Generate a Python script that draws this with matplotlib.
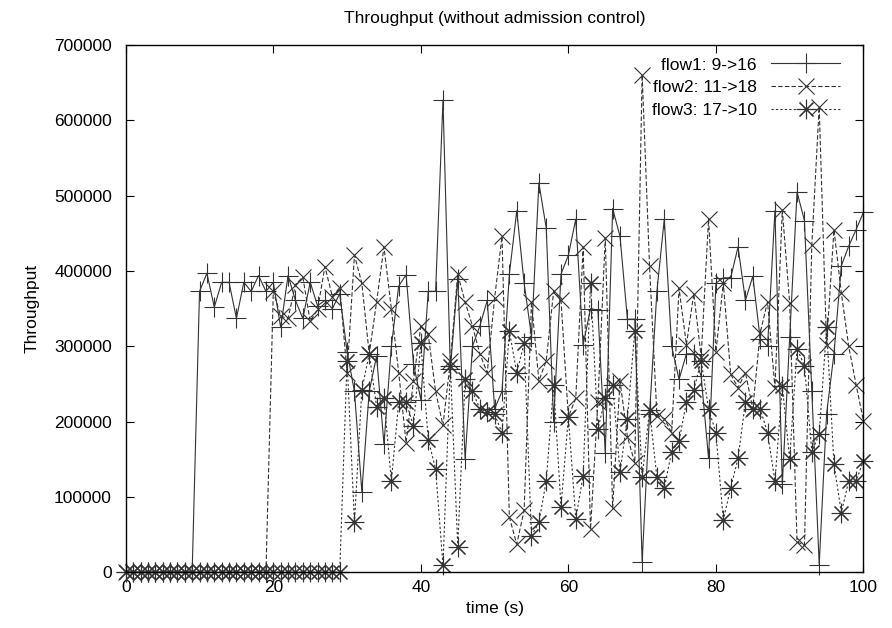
import numpy as np
import matplotlib
matplotlib.use("Agg")
import matplotlib.pyplot as plt

plt.rcParams['font.family'] = ['Liberation Sans', 'DejaVu Sans']

# time axis (s), one sample per second
time_s = list(range(101))

# throughput values, in thousands
flow1_k = [0, 0, 0, 0, 0, 0, 0, 0, 0, 0,
           373, 397, 352, 385, 385, 337, 385, 373, 394, 373,
           385, 325, 394, 361, 337, 385, 354, 361, 350, 370,
           293, 240, 107, 240, 287, 170, 300, 380, 395, 277,
           229, 373, 373, 627, 270, 390, 150, 300, 327, 361,
           217, 240, 396, 480, 384, 313, 517, 457, 200, 396,
           421, 469, 302, 350, 348, 158, 483, 446, 336, 336,
           14, 210, 373, 469, 300, 256, 290, 290, 260, 151,
           384, 391, 391, 432, 361, 393, 310, 300, 480, 117,
           312, 505, 467, 240, 10, 210, 290, 407, 433, 455, 478]

flow2_k = [0, 0, 0, 0, 0, 0, 0, 0, 0, 0,
           0, 0, 0, 0, 0, 0, 0, 0, 0, 0,
           373, 340, 337, 382, 392, 333, 349, 406, 366, 378,
           265, 421, 384, 290, 359, 432, 350, 265, 172, 254,
           327, 316, 240, 195, 280, 396, 359, 327, 290, 265,
           364, 446, 73, 37, 82, 359, 254, 281, 373, 361,
           206, 231, 432, 57, 226, 444, 85, 254, 180, 145,
           661, 407, 208, 204, 185, 377, 302, 370, 286, 469,
           293, 384, 263, 245, 265, 217, 318, 359, 245, 481,
           357, 40, 36, 435, 618, 302, 455, 371, 300, 249, 201]

flow3_k = [0, 0, 0, 0, 0, 0, 0, 0, 0, 0,
           0, 0, 0, 0, 0, 0, 0, 0, 0, 0,
           0, 0, 0, 0, 0, 0, 0, 0, 0, 0,
           281, 66, 242, 290, 220, 231, 121, 226, 226, 194,
           304, 176, 137, 9, 274, 34, 256, 240, 217, 213,
           210, 185, 320, 265, 304, 48, 66, 121, 249, 87,
           206, 71, 128, 384, 190, 231, 249, 133, 204, 320,
           126, 215, 126, 112, 160, 174, 226, 242, 281, 217,
           185, 69, 112, 151, 226, 217, 217, 185, 121, 247,
           150, 297, 274, 160, 183, 325, 144, 79, 121, 121, 148]

labels = ['flow1: 9->16', 'flow2: 11->18', 'flow3: 17->10']

fig = plt.figure(figsize=(8.92, 6.28), dpi=100)
ax = fig.add_axes([0.141, 0.089, 0.827, 0.839])

ax.plot(time_s, np.array(flow1_k) * 1000, color='#333333', lw=0.8, ls='-',
        marker='+', ms=14, mew=0.8, label=labels[0], clip_on=False)
ax.plot(time_s, np.array(flow2_k) * 1000, color='#333333', lw=0.8, ls=(0, (4, 2)),
        marker='x', ms=11, mew=0.8, label=labels[1], clip_on=False)
ax.plot(time_s, np.array(flow3_k) * 1000, color='#333333', lw=0.8, ls=(0, (2, 2)),
        marker=(8, 2, 0), ms=14, mew=0.8, label=labels[2], clip_on=False)

ax.set_xlim(0, 100)
ax.set_ylim(0, 700000)
ax.set_xticks(range(0, 101, 20))
ax.set_yticks(range(0, 700001, 100000))
ax.ticklabel_format(style='plain', axis='y')
ax.tick_params(direction='in', top=True, right=True, length=6, labelsize=12.5)
ax.tick_params(axis='y', pad=10)
ax.tick_params(axis='x', pad=6)
for s in ax.spines.values():
    s.set_linewidth(1.0)

ax.set_title('Throughput (without admission control)', fontsize=12.5, pad=16)
ax.set_xlabel('time (s)', fontsize=12.5, labelpad=4)
ax.set_ylabel('Throughput', fontsize=12.5, labelpad=10)

leg = ax.legend(loc='upper right', frameon=False, markerfirst=False,
                handlelength=4, fontsize=12.5, borderaxespad=0.3,
                labelspacing=0.45, bbox_to_anchor=(0.985, 1.0))

fig.savefig('out.png', dpi=100)
